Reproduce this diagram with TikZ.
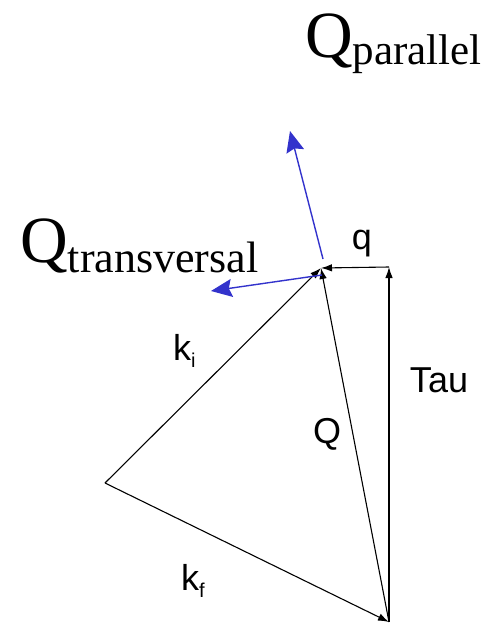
\documentclass[tikz,border=0pt]{standalone}
\usepackage{fontspec}
\setmainfont{Liberation Serif}
\newfontfamily\lsans{Liberation Sans}
\usetikzlibrary{arrows.meta}
\definecolor{vblue}{RGB}{51,51,204}
\tikzset{
  vec/.style={line width=1.1pt, black, -{Latex[length=11pt,width=7.5pt]}},
  bvec/.style={line width=1.4pt, vblue, -{Stealth[length=21pt,width=18pt,inset=3pt]}},
  slab/.style={font=\lsans\fontsize{36}{36}\selectfont, inner sep=0pt},
  bigq/.style={inner sep=0pt, anchor=base west}
}
\begin{document}
\begin{tikzpicture}[x=1pt,y=-1pt]
\useasboundingbox (0,0) rectangle (497,626);
\coordinate (L) at (105,483);
\coordinate (B) at (389,622);
\coordinate (C) at (389,267);
\coordinate (A) at (321,268);
\coordinate (Ap) at (323,259);
\coordinate (At) at (322,275);
\coordinate (P) at (290,131);
\coordinate (T) at (211,291);
% black vectors
\draw[vec] (L) -- (B);
\draw[vec] (L) -- (A);
\draw[vec] (B) -- (A);
\draw[vec] (B) -- (C);
\draw[vec] (C) -- (A);
% blue vectors
\draw[bvec] (Ap) -- (P);
\draw[bvec] (At) -- (T);
% small labels
\node[slab] (lq) at (362,244) {q};
\node[slab] (ltau) at (439,380) {Tau};
\node[slab] (lQ) at (327,434) {Q};
\node[slab, anchor=base west] (lki) at (173,360) {k\raisebox{-7pt}{\fontsize{20}{20}\selectfont i}};
\node[slab, anchor=base west] (lkf) at (181,590) {k\raisebox{-7pt}{\fontsize{20}{20}\selectfont f}};
% big labels
\node[bigq] (qpar) at (305,57) {\fontsize{66}{66}\selectfont Q\raisebox{-8pt}{\fontsize{43}{43}\selectfont parallel}};
\node[bigq] (qtr) at (20,262) {\fontsize{66}{66}\selectfont Q\raisebox{-10pt}{\fontsize{44}{44}\selectfont transversal}};
\end{tikzpicture}
\end{document}
